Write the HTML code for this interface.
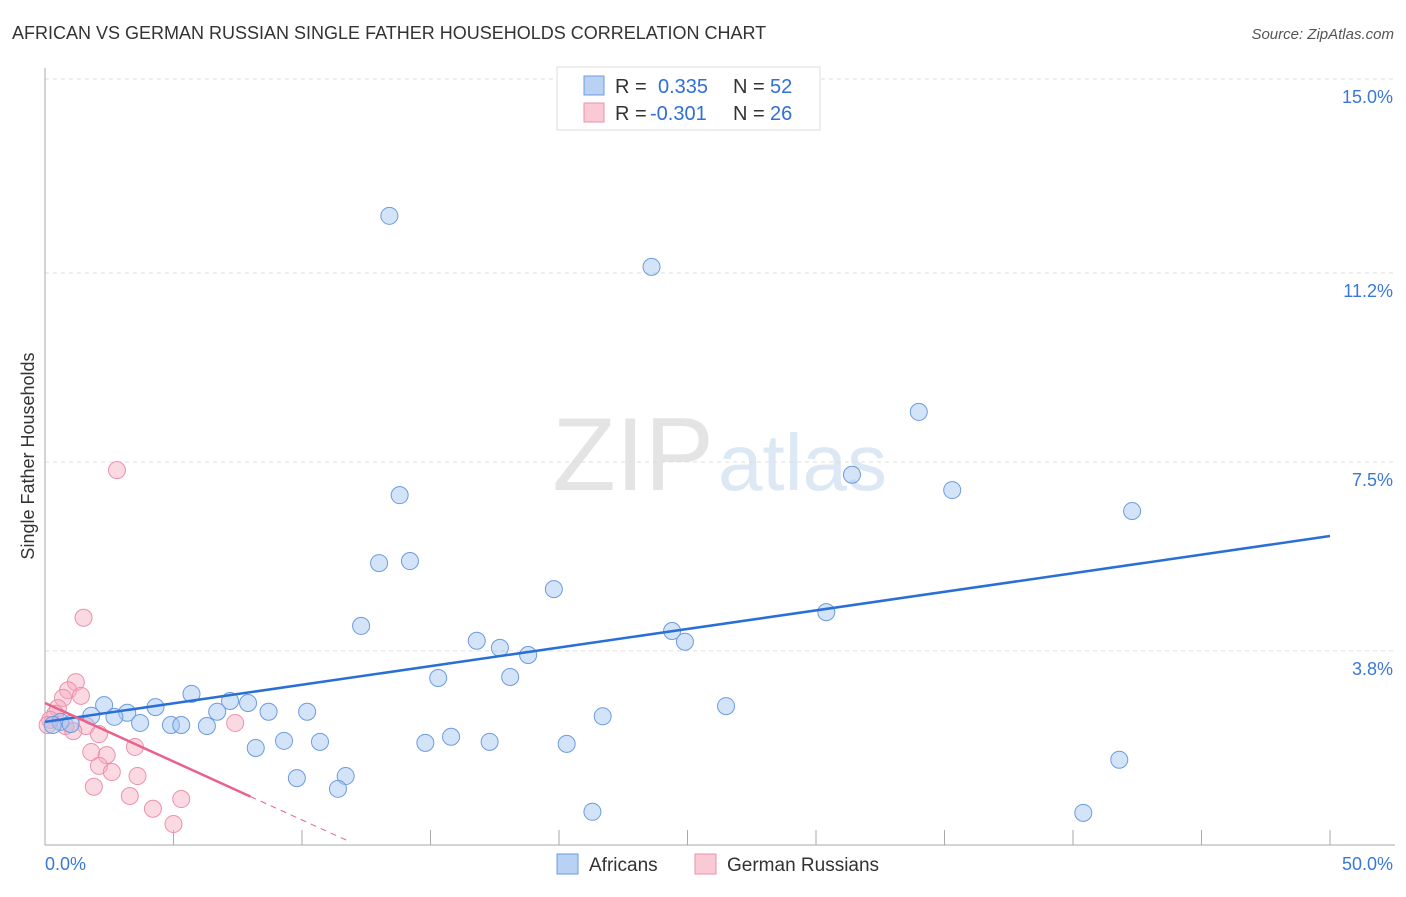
<!DOCTYPE html>
<html><head><meta charset="utf-8"><style>
body{margin:0;background:#fff;font-family:"Liberation Sans",sans-serif;}
svg text{font-family:"Liberation Sans",sans-serif;}
</style></head><body>
<svg width="1406" height="892" xmlns="http://www.w3.org/2000/svg">
<text x="12" y="39" font-size="18" fill="#333">AFRICAN VS GERMAN RUSSIAN SINGLE FATHER HOUSEHOLDS CORRELATION CHART</text>
<text x="1394" y="39" font-size="15" fill="#555" font-style="italic" text-anchor="end">Source: ZipAtlas.com</text>
<text x="714" y="490" font-size="104" fill="#e4e4e4" text-anchor="end" font-family="Liberation Serif">ZIP</text>
<text x="718" y="490" font-size="80" fill="#dde8f5">atlas</text>
<g id="grid"></g>
<g id="axes"></g>
<text transform="translate(34,456) rotate(-90)" font-size="18" fill="#333" text-anchor="middle">Single Father Households</text>
<text x="45" y="870" font-size="18" fill="#3a78d8">0.0%</text>
<text x="1393" y="870" font-size="18" fill="#3a78d8" text-anchor="end">50.0%</text>
<g id="pts"></g>
<g id="lines"></g>
<g>
<rect x="557" y="67" width="263" height="63" fill="#fff" stroke="#ddd"/>
<rect x="584" y="76" width="20" height="19" fill="#b9d2f3" stroke="#6c9be0"/>
<rect x="584" y="103" width="20" height="19" fill="#f9c9d6" stroke="#ec91ac"/>
<text x="615" y="93" font-size="20" fill="#333">R =</text>
<text x="658" y="93" font-size="20" fill="#2f6fd6">0.335</text>
<text x="733" y="93" font-size="20" fill="#333">N =</text>
<text x="770" y="93" font-size="20" fill="#2f6fd6">52</text>
<text x="615" y="120" font-size="20" fill="#333">R =</text>
<text x="650" y="120" font-size="20" fill="#2f6fd6">-0.301</text>
<text x="733" y="120" font-size="20" fill="#333">N =</text>
<text x="770" y="120" font-size="20" fill="#2f6fd6">26</text>
</g>
<g>
<rect x="557" y="854" width="21" height="20" fill="#b9d2f3" stroke="#6c9be0"/>
<text x="589" y="871" font-size="19" fill="#333">Africans</text>
<rect x="695" y="854" width="21" height="20" fill="#f9c9d6" stroke="#ec91ac"/>
<text x="727" y="871" font-size="19" fill="#333">German Russians</text>
</g>
</svg>
<script>
const yTicks=[15.0,11.2,7.5,3.8];
const yTickLabels=["15.0%","11.2%","7.5%","3.8%"];
const xTicks=[0,5,10,15,20,25,30,35,40,45,50];
const africanX=[13.4,23.6,34.0,31.4,35.3,42.3,13.8,13.0,14.2,19.8,30.4,12.3,24.4,24.9,16.8,17.7,18.8,15.3,18.1,26.5,21.7,5.7,7.2,7.9,4.3,2.3,3.2,6.7,8.7,10.2,2.7,1.8,3.7,4.9,5.3,6.3,0.6,1.0,0.3,9.3,10.7,8.2,14.8,15.8,17.3,20.3,9.8,11.7,11.4,41.8,21.3,40.4];
const africanY=[12.32,11.32,8.48,7.25,6.95,6.54,6.85,5.52,5.56,5.01,4.56,4.29,4.19,3.98,4.00,3.86,3.72,3.27,3.29,2.72,2.52,2.96,2.82,2.78,2.70,2.74,2.59,2.61,2.61,2.61,2.51,2.53,2.39,2.35,2.35,2.33,2.41,2.37,2.35,2.04,2.02,1.90,2.00,2.12,2.02,1.98,1.31,1.35,1.10,1.67,0.65,0.63];
const grX=[2.8,1.5,1.2,0.9,1.4,0.7,0.5,0.4,0.2,0.1,0.8,1.6,1.1,2.1,1.8,2.4,3.5,2.1,2.6,3.6,1.9,3.3,5.3,4.2,5.0,7.4];
const grY=[7.34,4.45,3.19,3.03,2.92,2.88,2.68,2.57,2.45,2.35,2.33,2.33,2.23,2.17,1.82,1.76,1.92,1.55,1.43,1.35,1.14,0.96,0.90,0.71,0.41,2.39];
const blueTrend=[2.41,6.05];
const pinkTrend=[2.78,-0.229];
const NS="http://www.w3.org/2000/svg";
const X=v=>45+v*25.7, Y=v=>845-v*51.07;
function mk(t,a,p){const e=document.createElementNS(NS,t);for(const k in a)e.setAttribute(k,a[k]);document.getElementById(p).appendChild(e);return e;}
yTicks.forEach((v,i)=>{
 const l=mk('line',{x1:45,x2:1395,y1:Y(v),y2:Y(v),stroke:'#ddd','stroke-dasharray':'4,4'},'grid');
 
 
 const t=mk('text',{x:1393,y:Y(v)+24,'font-size':18,fill:'#3a78d8','text-anchor':'end'},'grid');
 t.textContent=yTickLabels[i];
 
 
});
let a=mk('line',{x1:45,x2:45,y1:68,y2:845,stroke:'#aaa'},'axes');


a=mk('line',{x1:45,x2:1395,y1:845,y2:845,stroke:'#aaa'},'axes');


xTicks.forEach(v=>{const t=mk('line',{x1:X(v),x2:X(v),y1:830,y2:845,stroke:'#aaa'},'axes');
 
 });
grX.forEach((v,i)=>{const c=mk('circle',{cx:X(v),cy:Y(grY[i]),r:8.5,fill:'rgba(246,170,192,0.45)',stroke:'#ec91ac','stroke-width':1},'pts');
 
 });
africanX.forEach((v,i)=>{const c=mk('circle',{cx:X(v),cy:Y(africanY[i]),r:8.5,fill:'rgba(160,195,240,0.45)',stroke:'#6c9be0','stroke-width':1},'pts');
 
 });
let l=mk('line',{x1:X(0),y1:Y(blueTrend[0]),x2:X(50),y2:Y(blueTrend[1]),stroke:'#2a6fd6','stroke-width':2.5},'lines');


const pf=x=>pinkTrend[0]+pinkTrend[1]*x;
l=mk('line',{x1:X(0),y1:Y(pf(0)),x2:X(8),y2:Y(pf(8)),stroke:'#e8628c','stroke-width':2.5},'lines');


l=mk('line',{x1:X(8),y1:Y(pf(8)),x2:X(11.9),y2:Y(pf(11.9)),stroke:'#e8628c','stroke-width':1,'stroke-dasharray':'6,5'},'lines');


</script>
</body></html>
